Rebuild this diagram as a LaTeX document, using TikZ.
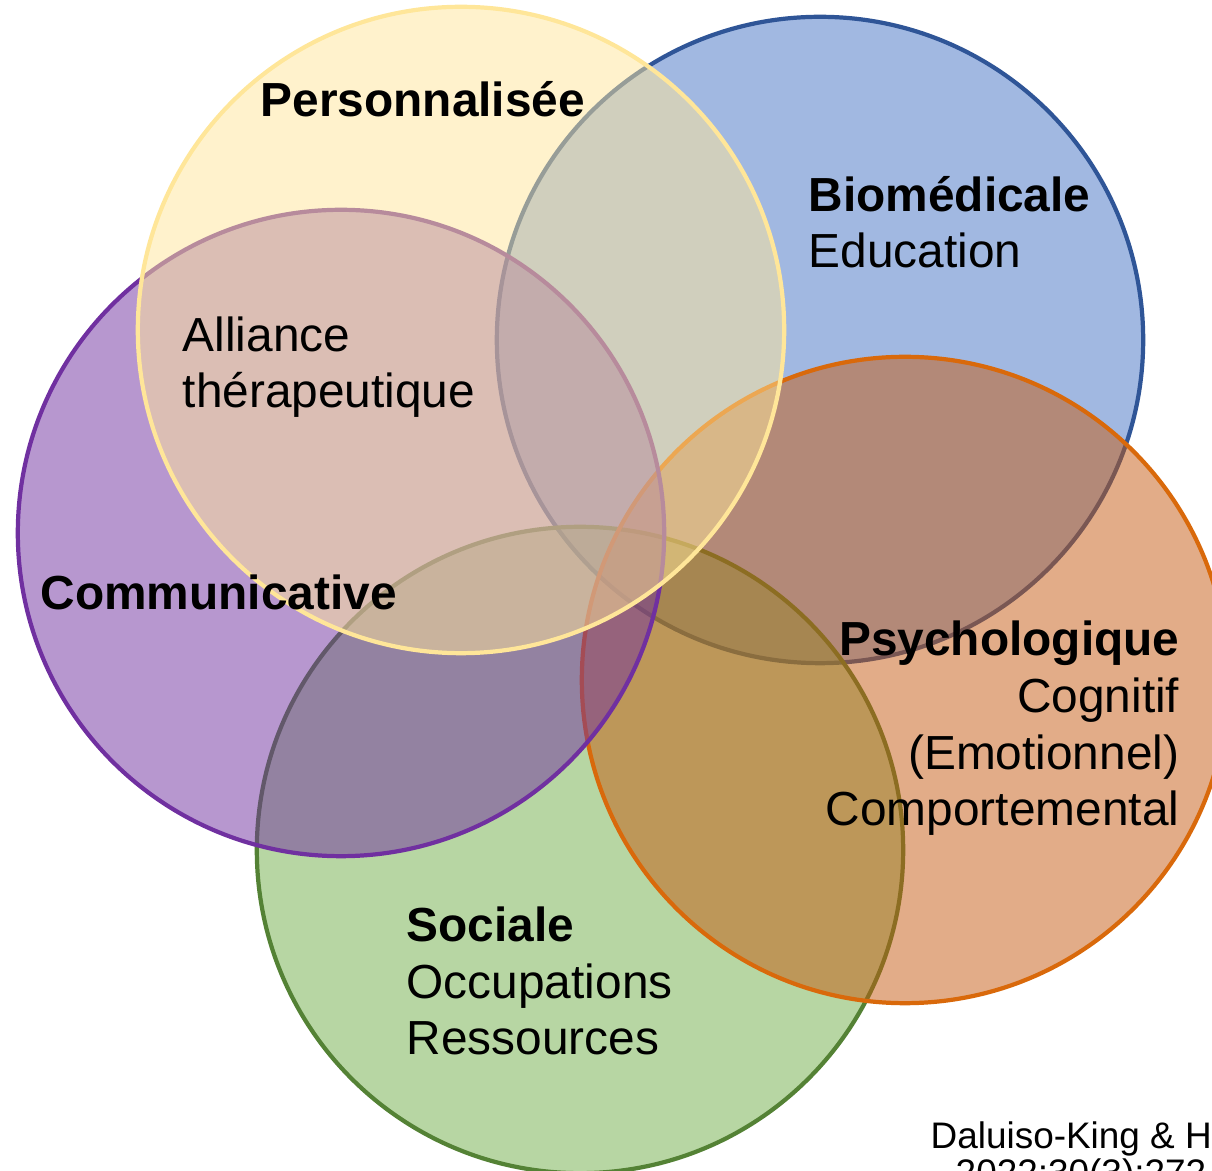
\documentclass[tikz,border=0pt]{standalone}
\usepackage{fontspec}
\setmainfont{Liberation Sans}

\definecolor{bleu}{HTML}{4472C4}
\definecolor{bleuT}{HTML}{2F5597}
\definecolor{vert}{HTML}{70AD47}
\definecolor{vertT}{HTML}{548235}
\definecolor{orange}{HTML}{C55A11}
\definecolor{orangeT}{HTML}{D9690B}
\definecolor{violet}{HTML}{7030A0}
\definecolor{jaune}{HTML}{FFE699}

\tikzset{
	cercle/.style = {circle, minimum size = 6.46cm, inner sep = 0pt, line width = 1.2pt, fill opacity = 0.5, draw opacity = 1},
	etiq/.style = {inner sep = 0pt, font = \fontsize{13.6}{16.2}\selectfont},
	ref/.style = {inner sep = 0pt, font = \fontsize{10.5}{10.8}\selectfont}
}

\begin{document}
\begin{tikzpicture}[x = 0.01cm, y = -0.01cm]%Venn
	\clip (0,0) rectangle (1212,1171);
	% cercles
	\node[cercle, draw = bleuT, fill = bleu] (Bio) at (820,340) {};
	\node[cercle, draw = vertT, fill = vert] (Soc) at (580,850) {};
	\node[cercle, draw = orangeT, fill = orange] (Psy) at (905,680) {};
	\node[cercle, draw = violet, fill = violet] (Com) at (341,533) {};
	\node[cercle, draw = jaune, fill = jaune] (Per) at (461,330) {};
	% textes (base = derniere ligne)
	\node[etiq, anchor = base west] (tPer) at (260,117) {\bfseries Personnalisée};
	\node[etiq, anchor = base west, align = left] (tBio) at (808,268) {{\bfseries Biomédicale}\\Education};
	\node[etiq, anchor = base west, align = left] (tAll) at (182,408) {Alliance\\thérapeutique};
	\node[etiq, anchor = base west] (tCom) at (40,610) {\bfseries Communicative};
	\node[etiq, anchor = base east, align = right] (tPsy) at (1180,826) {{\bfseries Psychologique}\\Cognitif\\(Emotionnel)\\Comportemental};
	\node[etiq, anchor = base west, align = left] (tSoc) at (406,1055) {{\bfseries Sociale}\\Occupations\\Ressources};
	\node[ref, anchor = base west, align = left] (tRef) at (930,1186) {Daluiso-King \& Hebblethwaite\\\hspace*{0.25cm}2022;30(3):272};
\end{tikzpicture}
\end{document}
